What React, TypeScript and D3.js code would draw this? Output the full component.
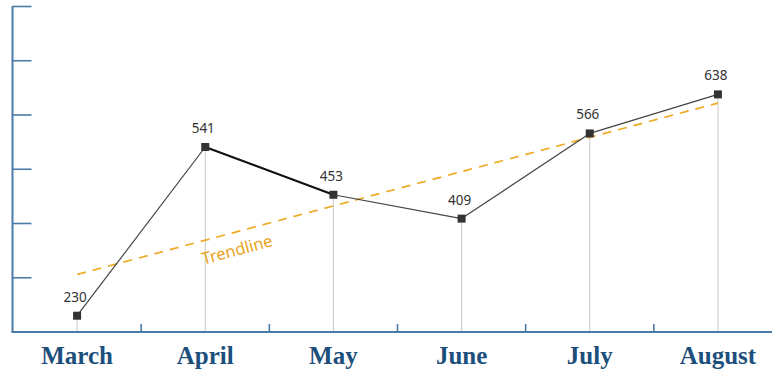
import React from "react";
import * as d3 from "d3";

const months = ["March", "April", "May", "June", "July", "August"];
const sales = [230, 541, 453, 409, 566, 638];
// Trendline value at the first and last month
const trendMonths = ["March", "August"];
const trendValues = [306, 622];
const yTicks = [300, 400, 500, 600, 700, 800];

const W = 772;
const H = 374;
const axisX = 12.5;
const axisY = 332;
const axisColor = "#4a7ba6";

export default function App() {
  const x = d3.scaleBand<string>().domain(months).range([13, 782]).padding(0);
  const cx = (m: string) => (x(m) as number) + x.bandwidth() / 2;
  const y = d3.scaleLinear().domain([200, 800]).range([axisY, 6.5]);

  const pts = months.map((m, i) => [cx(m), y(sales[i])] as [number, number]);
  const line = d3.line<[number, number]>();

  const t0: [number, number] = [cx(trendMonths[0]), y(trendValues[0])];
  const t1: [number, number] = [cx(trendMonths[1]), y(trendValues[1])];
  const angle = (Math.atan2(t1[1] - t0[1], t1[0] - t0[0]) * 180) / Math.PI;
  const lx = 237;
  const ly = t0[1] + ((lx - t0[0]) * (t1[1] - t0[1])) / (t1[0] - t0[0]) + 18;

  const boundaries = months.slice(1).map((m) => x(m) as number);

  return (
    <svg
      width={W}
      height={H}
      style={{ position: "absolute", left: 0, top: 0, background: "#fff" }}
    >
      {/* drop lines */}
      {pts.map((p, i) => (
        <line key={"d" + i} x1={p[0]} x2={p[0]} y1={p[1]} y2={axisY} stroke="#c8c8c8" strokeWidth={1} />
      ))}

      {/* y axis */}
      <line x1={axisX} x2={axisX} y1={y(800) - 0.5} y2={axisY} stroke={axisColor} strokeWidth={2} />
      {yTicks.map((t) => (
        <line key={"yt" + t} x1={axisX} x2={31.5} y1={y(t)} y2={y(t)} stroke={axisColor} strokeWidth={1.6} />
      ))}

      {/* x axis */}
      <line x1={axisX - 1} x2={W} y1={axisY} y2={axisY} stroke={axisColor} strokeWidth={2} />
      {boundaries.map((b, i) => (
        <line key={"xt" + i} x1={b} x2={b} y1={axisY} y2={axisY - 8} stroke={axisColor} strokeWidth={1.6} />
      ))}
      {months.map((m) => (
        <text
          key={"xl" + m}
          x={cx(m)}
          y={364}
          textAnchor="middle"
          fontFamily="'Liberation Serif', serif"
          fontWeight="bold"
          fontSize={25}
          fill="#1d4f7c"
        >
          {m}
        </text>
      ))}

      {/* trendline */}
      <path d={line([t0, t1]) as string} stroke="#eeaa22" strokeWidth={1.7} strokeDasharray="9,7" fill="none" />
      <text
        transform={`translate(${lx},${ly}) rotate(${angle})`}
        textAnchor="middle"
        dy="0.35em"
        fontFamily="'Noto Sans', sans-serif"
        fontSize={16.5}
        fill="#e8a31c"
      >
        Trendline
      </text>

      {/* series */}
      {pts.slice(1).map((p, i) => (
        <path
          key={"s" + i}
          d={line([pts[i], p]) as string}
          stroke={i === 1 ? "#111" : "#444"}
          strokeWidth={i === 1 ? 2.2 : 1.2}
          fill="none"
        />
      ))}
      {pts.map((p, i) => (
        <rect key={"m" + i} x={p[0] - 4} y={p[1] - 4} width={8} height={8} fill="#333" />
      ))}
      {pts.map((p, i) => (
        <text
          key={"v" + i}
          x={p[0] - 2}
          y={p[1] - 14}
          textAnchor="middle"
          fontFamily="'Noto Sans', sans-serif"
          fontSize={13.5}
          fill="#333"
        >
          {sales[i]}
        </text>
      ))}
    </svg>
  );
}
